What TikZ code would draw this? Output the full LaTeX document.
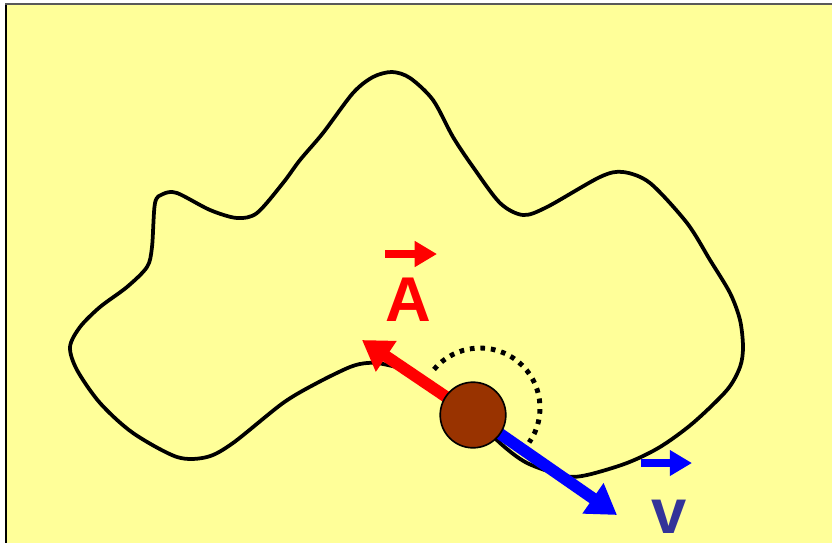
\documentclass[tikz,border=0pt]{standalone}
\usepackage{fontspec}
\setmainfont{Liberation Sans}
\usetikzlibrary{arrows.meta}
\definecolor{paper}{HTML}{FFFF99}
\definecolor{ballbrown}{HTML}{993300}
\definecolor{velblue}{HTML}{333399}

\begin{document}
\begin{tikzpicture}[
    x=0.3mm, y=-0.3mm,
    track/.style={line width=3.2pt, line join=round},
    vec/.style={line width=10pt, -{Triangle[length=25pt, width=30pt]}},
    hat/.style={line width=7.5pt, -{Triangle[length=19pt, width=21pt]}},
    spin/.style={line width=4.2pt, dash pattern=on 4pt off 5pt},
    ball/.style={circle, draw, line width=1.4pt, fill=ballbrown, minimum size=56pt, inner sep=0pt},
    letter/.style={font=\fontsize{54}{60}\selectfont\bfseries, inner sep=0pt, anchor=base}
]
\useasboundingbox (0,0) rectangle (832,542);
\clip (0,0) rectangle (832,542);

% Background and frame
\fill[white] (0,0) rectangle (832,542);
\fill[paper] (6,4) rectangle (840,550);
\draw[black, line width=2pt] (6,3) -- (6,550);
\draw[black!65, line width=1.6pt] (5,4) -- (840,4);

% Closed track
\draw[track] plot[smooth cycle, tension=0.5] coordinates {
    (373,77) (392,72) (410,78) (433,100) (453,137) (473,167) (500,203)
    (523,215) (547,207) (600,177) (623,172) (650,183) (687,223) (710,260)
    (730,293) (740,320) (743,347) (740,367) (727,390) (693,423) (660,447)
    (627,463) (587,475) (565,476) (527,463) (500,443) (473,415) (443,395)
    (410,372) (383,364) (367,363) (350,367) (317,383) (283,403) (233,443)
    (207,457) (177,457) (133,433) (100,403) (77,370) (70,347) (80,327)
    (100,307) (127,287) (147,267) (152,247) (155,203) (163,194) (177,193)
    (210,210) (237,218) (257,213) (283,183) (300,160) (323,133) (353,93)
};

\coordinate (centre) at (473,415);
\coordinate (arcCentre) at (480,408);
\coordinate (accTip) at (362,340);
\coordinate (velTip) at (617,515);

% Dotted turn
\draw[spin] ([shift={(140:1.8cm)}]arcCentre) arc[start angle=140, end angle=-35, radius=1.8cm];

% Vectors
\draw[vec, red] (centre) -- (accTip);
\draw[vec, blue] (centre) -- (velTip);

\node[ball] (ball) at (centre) {};

% Labels with vector arrows
\node[letter, text=red] (accLabel) at (408,321) {A};
\node[letter, text=velblue] (velLabel) at (669,533) {v};

\coordinate (accHatL) at (385,254);
\coordinate (accHatR) at (437,254);
\coordinate (velHatL) at (641,463);
\coordinate (velHatR) at (692,463);
\draw[hat, red] (accHatL) -- (accHatR);
\draw[hat, blue] (velHatL) -- (velHatR);

\end{tikzpicture}
\end{document}
